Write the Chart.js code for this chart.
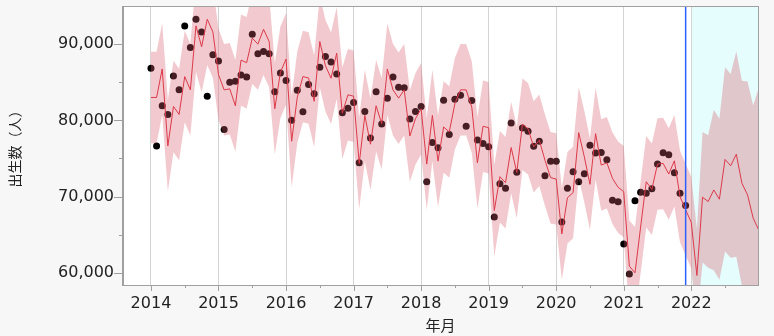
<!DOCTYPE html>
<html>
<head>
<meta charset="utf-8">
<script src="https://cdn.jsdelivr.net/npm/chart.js@4.4.1/dist/chart.umd.min.js"></script>
<style>
  html, body { margin: 0; padding: 0; background: #f7f7f7; }
  canvas { display: block; }
</style>
</head>
<body>
<canvas id="chart" width="774" height="336"></canvas>
<script>
// Monthly births, Jan 2014 - Dec 2021 (observed)
const observed = [
  86820, 76650, 81920, 80780, 85830, 84000, 92390, 89560, 93260, 91600, 83170, 88600,
  87780, 78790, 85000, 85120, 85960, 85700, 91300, 88740, 89040, 88740, 83740, 86220,
  85220, 80000, 83950, 81130, 84690, 83480, 86950, 88380, 87650, 86090, 81000, 81600,
  82350, 74430, 81170, 77690, 83740, 79520, 82910, 85700, 84340, 84260, 80170, 81170,
  81820, 71950, 77090, 76390, 82650, 78130, 82780, 83300, 79220, 82600, 77430, 76960,
  76520, 67310, 71690, 71090, 79650, 73180, 78990, 78560, 76610, 77260, 72740, 74650,
  74650, 66660, 71090, 73260, 71950, 72990, 76740, 75700, 75790, 74820, 69530, 69310,
  63790, 59830, 69440, 70570, 70440, 71040, 74260, 75740, 75480, 73130, 70440, 68820
];

// Fitted / forecast line, Jan 2014 - Jan 2023
const fitted = [
  83000, 83000, 86740, 76650, 81820, 80780, 85740, 84000, 92390, 89650, 93260, 91600,
  86000, 84000, 84130, 81910, 87900, 87560, 90780, 90000, 91950, 90340, 81520, 86300,
  88040, 77260, 83040, 85740, 85560, 82500, 90340, 87170, 85520, 88820, 80950, 83350,
  83170, 74350, 80650, 76870, 81910, 79560, 86740, 84000, 82910, 84000, 77950, 80210,
  81520, 74260, 80650, 74650, 79130, 78480, 82170, 84000, 84000, 81740, 74430, 79220,
  79040, 68170, 72610, 71820, 76430, 73170, 79480, 78910, 76520, 77390, 74780, 72480,
  72300, 65090, 69860, 70520, 78390, 75220, 71610, 78260, 74130, 74430, 72390, 71220,
  70650, 60870, 60000, 66000, 71950, 70950, 74260, 74350, 72960, 74690, 70000, 68260,
  66610, 59650, 69910, 69350, 70870, 69650, 74870, 74040, 75560, 71740, 70220, 67170,
  65600
];

const bandUpper = [
  89000, 89000, 92740, 82650, 87820, 86780, 91740, 90000, 98390, 95650, 99260, 97600,
  92000, 90000, 90130, 87910, 93900, 93560, 96780, 96000, 97950, 96340, 87520, 92300,
  94040, 83260, 89040, 91740, 91560, 88500, 96340, 93170, 91520, 94820, 86950, 89350,
  89170, 80350, 86650, 82870, 87910, 85560, 92740, 90000, 88910, 90000, 83950, 86210,
  87520, 80260, 86650, 80650, 85130, 84480, 88170, 90000, 90000, 87740, 80430, 85220,
  85040, 74170, 78610, 77820, 82430, 79170, 85480, 84910, 82520, 83390, 80780, 78480,
  78300, 71090, 75860, 76520, 84390, 81220, 77610, 84260, 80130, 80430, 78390, 77220,
  76650, 66870, 66000, 72000, 77950, 76950, 80260, 80350, 78960, 80690, 76000, 74260,
  72610, 65750, 78470, 78040, 81390, 80220, 86950, 86090, 89040, 85210, 85080, 81950,
  84300
];

const bandLower = [
  77000, 77000, 80740, 70650, 75820, 74780, 79740, 78000, 86390, 83650, 87260, 85600,
  80000, 78000, 78130, 75910, 81900, 81560, 84780, 84000, 85950, 84340, 75520, 80300,
  82040, 71260, 77040, 79740, 79560, 76500, 84340, 81170, 79520, 82820, 74950, 77350,
  77170, 68350, 74650, 70870, 75910, 73560, 80740, 78000, 76910, 78000, 71950, 74210,
  75520, 68260, 74650, 68650, 73130, 72480, 76170, 78000, 78000, 75740, 68430, 73220,
  73040, 62170, 66610, 65820, 70430, 67170, 73480, 72910, 70520, 71390, 68780, 66480,
  66300, 59090, 63860, 64520, 72390, 69220, 65610, 72260, 68130, 68430, 66390, 65220,
  64650, 54870, 54000, 60000, 65950, 64950, 68260, 68350, 66960, 68690, 64000, 62260,
  60610, 53550, 61350, 60650, 60350, 59080, 62790, 61990, 62090, 58270, 55350, 52400,
  47000
];

const startYear = 2014;
const xTickValues = [2014, 2014.5, 2015, 2015.5, 2016, 2016.5, 2017, 2017.5, 2018, 2018.5,
  2019, 2019.5, 2020, 2020.5, 2021, 2021.5, 2022, 2022.5];
const yTickValues = [60000, 65000, 70000, 75000, 80000, 85000, 90000];
const forecastStart = 2022;
const lastObserved = 2021 + 11 / 12;

// month index -> decimal year
const monthX = i => startYear + i / 12;
const toPoints = arr => arr.map((v, i) => ({ x: monthX(i), y: v }));

const tickFont = { family: 'DejaVu Sans', size: 16 };
const cjkFont = 'Noto Sans CJK JP';

// white plot area plus the cyan forecast zone, under the grid
const plotBackground = {
  id: 'plotBackground',
  beforeDraw(chart) {
    const { ctx, chartArea: a, scales: { x } } = chart;
    ctx.save();
    ctx.fillStyle = '#ffffff';
    ctx.fillRect(a.left, a.top, a.right - a.left, a.bottom - a.top);
    const fx = x.getPixelForValue(forecastStart);
    ctx.fillStyle = 'rgb(229,253,252)';
    ctx.fillRect(fx, a.top, a.right - fx, a.bottom - a.top);
    ctx.restore();
  }
};

// frame, blue marker line and tick marks
const frameAndTicks = {
  id: 'frameAndTicks',
  afterDraw(chart) {
    const { ctx, chartArea: a, scales: { x, y } } = chart;
    ctx.save();

    const bx = x.getPixelForValue(lastObserved);
    ctx.strokeStyle = '#2a62ff';
    ctx.lineWidth = 1.5;
    ctx.beginPath();
    ctx.moveTo(bx, a.top);
    ctx.lineTo(bx, a.bottom);
    ctx.stroke();

    ctx.strokeStyle = '#a0a0a0';
    ctx.lineWidth = 1;
    ctx.strokeRect(Math.round(a.left) - 0.5, Math.round(a.top) + 0.5,
      Math.round(a.right - a.left) + 1, Math.round(a.bottom - a.top));

    ctx.beginPath();
    xTickValues.forEach(v => {
      const px = Math.round(x.getPixelForValue(v)) + 0.5;
      const len = Number.isInteger(v) ? 6 : 3;
      ctx.moveTo(px, a.bottom);
      ctx.lineTo(px, a.bottom + len);
    });
    yTickValues.forEach(v => {
      const py = Math.round(y.getPixelForValue(v)) + 0.5;
      const len = v % 10000 === 0 ? 9 : 4;
      ctx.moveTo(a.left, py);
      ctx.lineTo(a.left - len, py);
    });
    ctx.stroke();
    ctx.restore();
  }
};

new Chart(document.getElementById('chart'), {
  type: 'line',
  data: {
    datasets: [
      {
        label: 'fitted',
        data: toPoints(fitted),
        borderColor: '#dc3a4a',
        borderWidth: 1,
        pointRadius: 0,
        tension: 0,
        fill: false,
        order: 0
      },
      {
        label: 'upper',
        data: toPoints(bandUpper),
        borderWidth: 0,
        borderColor: 'rgba(0,0,0,0)',
        backgroundColor: 'rgba(216,90,105,0.33)',
        pointRadius: 0,
        tension: 0,
        fill: '+1',
        order: 1
      },
      {
        label: 'lower',
        data: toPoints(bandLower),
        borderWidth: 0,
        borderColor: 'rgba(0,0,0,0)',
        pointRadius: 0,
        tension: 0,
        fill: false,
        order: 1
      },
      {
        label: 'observed',
        data: toPoints(observed),
        showLine: false,
        pointRadius: 3.5,
        pointBorderWidth: 0,
        pointBackgroundColor: '#000000',
        pointBorderColor: '#000000',
        order: 2
      }
    ]
  },
  options: {
    responsive: false,
    animation: false,
    devicePixelRatio: 1,
    layout: { padding: { top: 6, right: 16, bottom: 0, left: 0 } },
    plugins: { legend: { display: false }, tooltip: { enabled: false } },
    scales: {
      x: {
        type: 'linear',
        min: 2013.586,
        max: 2022.988,
        afterBuildTicks: s => { s.ticks = xTickValues.map(v => ({ value: v })); },
        afterFit: s => { s.height = 51; s.paddingLeft = 0; s.paddingRight = 0; },
        ticks: {
          autoSkip: false,
          maxRotation: 0,
          padding: 9,
          color: '#222',
          font: tickFont,
          callback: v => Number.isInteger(v) ? String(v) : ''
        },
        grid: {
          drawTicks: false,
          color: c => (c.tick && Number.isInteger(c.tick.value)) ? '#d4d4d4' : 'rgba(0,0,0,0)'
        },
        border: { color: '#a0a0a0' },
        title: {
          display: true,
          text: '年月',
          color: '#222',
          font: { family: cjkFont, size: 15 },
          padding: { top: 0, bottom: 2 }
        }
      },
      y: {
        type: 'linear',
        min: 58400,
        max: 95000,
        afterBuildTicks: s => { s.ticks = yTickValues.map(v => ({ value: v })); },
        afterFit: s => { s.width = 123; s.paddingTop = 0; s.paddingBottom = 0; },
        ticks: {
          padding: 9,
          color: '#222',
          font: tickFont,
          callback: v => v % 10000 === 0 ? v.toLocaleString('en-US') : ''
        },
        grid: { drawOnChartArea: false, drawTicks: false },
        border: { color: '#a0a0a0' },
        title: {
          display: true,
          text: '出生数（人）',
          color: '#222',
          font: { family: cjkFont, size: 14 },
          padding: { top: 6, bottom: 0 }
        }
      }
    }
  },
  plugins: [plotBackground, frameAndTicks]
});
</script>
</body>
</html>
